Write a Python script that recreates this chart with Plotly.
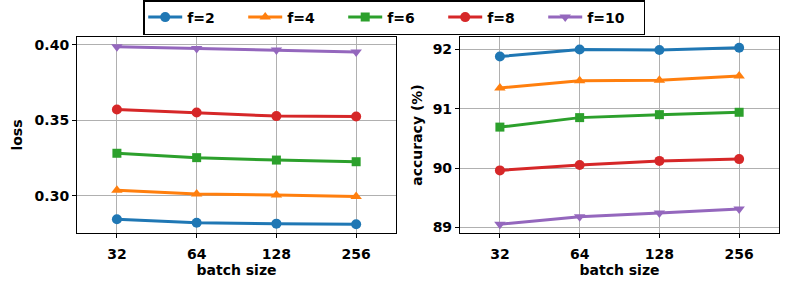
import plotly.graph_objects as go

batch_sizes = ["32", "64", "128", "256"]
series_names = ["f=2", "f=4", "f=6", "f=8", "f=10"]
loss_f2 = [0.2846, 0.2823, 0.2817, 0.2813]
loss_f4 = [0.3038, 0.3013, 0.3007, 0.2996]
loss_f6 = [0.3283, 0.3254, 0.3238, 0.3227]
loss_f8 = [0.3573, 0.3553, 0.3529, 0.3527]
loss_f10 = [0.3989, 0.3976, 0.3967, 0.3954]
acc_f2 = [91.88, 92.00, 91.99, 92.03]
acc_f4 = [91.35, 91.47, 91.48, 91.55]
acc_f6 = [90.69, 90.85, 90.90, 90.94]
acc_f8 = [89.96, 90.05, 90.12, 90.15]
acc_f10 = [89.05, 89.18, 89.24, 89.31]
loss_ticks = [0.30, 0.35, 0.40]
acc_ticks = [89, 90, 91, 92]

colors = ["#1f77b4", "#ff7f0e", "#2ca02c", "#d62728", "#9467bd"]
symbols = ["circle", "triangle-up", "square", "circle", "triangle-down"]
msizes = [10, 10, 9, 10, 10]
loss_all = [loss_f2, loss_f4, loss_f6, loss_f8, loss_f10]
acc_all = [acc_f2, acc_f4, acc_f6, acc_f8, acc_f10]

FONT = "DejaVu Sans"
FS = 14
fig = go.Figure()
for i, name in enumerate(series_names):
    fig.add_trace(go.Scatter(
        x=batch_sizes, y=loss_all[i], name=f"<b>{name}</b>", mode="lines+markers",
        line=dict(color=colors[i], width=3),
        marker=dict(symbol=symbols[i], size=msizes[i], color=colors[i]),
        xaxis="x", yaxis="y", legendgroup=name, showlegend=True))
for i, name in enumerate(series_names):
    fig.add_trace(go.Scatter(
        x=batch_sizes, y=acc_all[i], name=f"<b>{name}</b>", mode="lines+markers",
        line=dict(color=colors[i], width=3),
        marker=dict(symbol=symbols[i], size=msizes[i], color=colors[i]),
        xaxis="x2", yaxis="y2", legendgroup=name, showlegend=False))

axis_common = dict(
    showline=True, linecolor="black", linewidth=1.2, mirror=True,
    showgrid=True, gridcolor="#b0b0b0", gridwidth=1,
    ticks="outside", ticklen=4, tickcolor="black", tickwidth=1,
    tickfont=dict(family=FONT, size=FS, color="black"),
    zeroline=False,
)
title_font = dict(family=FONT, size=FS, color="black")

fig.update_layout(
    width=790, height=289,
    margin=dict(l=0, r=0, t=0, b=0, autoexpand=False),
    paper_bgcolor="white", plot_bgcolor="white",
    font=dict(family=FONT, color="black"),
    xaxis=dict(domain=[0.0975, 0.5013], anchor="y", type="category",
               range=[-0.5, 3.5], ticklabelstandoff=4,
               tickvals=batch_sizes, ticktext=[f"<b>{b}</b>" for b in batch_sizes],
               title=dict(text="<b>batch size</b>", standoff=0, font=title_font),
               **axis_common),
    yaxis=dict(domain=[0.1938, 0.872], anchor="x", range=[0.2755, 0.4053],
               tickvals=loss_ticks, ticktext=[f"<b>{v:.2f}</b>" for v in loss_ticks],
               title=dict(text="<b>loss</b>", standoff=8, font=title_font),
               **axis_common),
    xaxis2=dict(domain=[0.5823, 0.9861], anchor="y2", type="category",
                range=[-0.5, 3.5], ticklabelstandoff=4,
                tickvals=batch_sizes, ticktext=[f"<b>{b}</b>" for b in batch_sizes],
                title=dict(text="<b>batch size</b>", standoff=0, font=title_font),
                **axis_common),
    yaxis2=dict(domain=[0.1938, 0.872], anchor="x2", range=[88.904, 92.21],
                tickvals=acc_ticks, ticktext=[f"<b>{v}</b>" for v in acc_ticks],
                title=dict(text="<b>accuracy (%)</b>", standoff=6, font=title_font),
                **axis_common),
    legend=dict(orientation="h", x=0.499, xanchor="center", y=1.0, yanchor="top",
                bordercolor="black", borderwidth=1.5, bgcolor="white",
                font=dict(family=FONT, size=FS, color="black"),
                itemwidth=34, entrywidth=51, tracegroupgap=0),
)

fig.write_html("out.html", config={"displayModeBar": False},
               post_script="document.body.style.margin='0';")
